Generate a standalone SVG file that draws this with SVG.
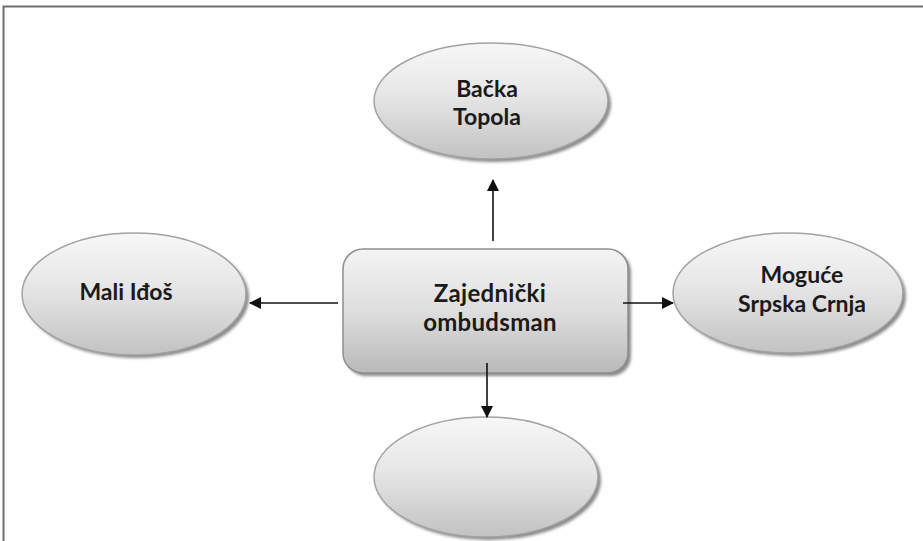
<svg xmlns="http://www.w3.org/2000/svg" width="923" height="541" viewBox="0 0 923 541">
<defs>
<linearGradient id="gEl" x1="0" y1="0" x2="0" y2="1">
<stop offset="0" stop-color="#f7f7f7"/>
<stop offset="0.45" stop-color="#e6e6e6"/>
<stop offset="1" stop-color="#c2c2c2"/>
</linearGradient>
<linearGradient id="gBox" x1="0" y1="0" x2="0" y2="1">
<stop offset="0" stop-color="#f4f4f4"/>
<stop offset="0.5" stop-color="#dedede"/>
<stop offset="1" stop-color="#b9b9b9"/>
</linearGradient>
<filter id="sh" x="-10%" y="-10%" width="120%" height="130%">
<feGaussianBlur stdDeviation="1.5"/>
</filter>
<marker id="ah" viewBox="0 0 12 12" refX="11" refY="6" markerWidth="12" markerHeight="12" markerUnits="userSpaceOnUse" orient="auto">
<path d="M0,0 L12,6 L0,12 Z" fill="#111"/>
</marker>
</defs>
<style>
.el{fill:url(#gEl);stroke:#a2a2a2;stroke-width:1.5}
.shd{fill:#8a8a8a;filter:url(#sh)}
.box{fill:url(#gBox);stroke:#8e8e8e;stroke-width:1.5}
.t{font-family:Lato,"Open Sans","Liberation Sans",sans-serif;font-weight:700;fill:#1a1a1a;text-anchor:middle}
.e{font-size:23px}
.c{font-size:24px;letter-spacing:0.3px}
.conn line{stroke:#111;stroke-width:1.6;marker-end:url(#ah)}
</style>
<rect width="923" height="541" fill="#fff"/>
<path d="M3.5,541 V6.5 H923" fill="none" stroke="#6e6e6e" stroke-width="2"/>

<g id="node-backa-topola">
<ellipse class="shd" cx="494" cy="104" rx="117" ry="58"/>
<ellipse class="el" cx="491" cy="101" rx="117" ry="58"/>
<text class="t e" x="487" y="97">Bačka</text>
<text class="t e" x="487" y="125">Topola</text>
</g>

<g id="node-mali-idos">
<ellipse class="shd" cx="137" cy="297" rx="112" ry="61"/>
<ellipse class="el" cx="134" cy="294" rx="112" ry="61"/>
<text class="t e" x="126" y="300">Mali Iđoš</text>
</g>

<g id="node-moguce">
<ellipse class="shd" cx="791" cy="296" rx="115" ry="60"/>
<ellipse class="el" cx="788" cy="293" rx="115" ry="60"/>
<text class="t e" x="802" y="283">Moguće</text>
<text class="t e" x="802" y="312">Srpska Crnja</text>
</g>

<g id="node-empty">
<ellipse class="shd" cx="489" cy="480" rx="112" ry="60"/>
<ellipse class="el" cx="486" cy="477" rx="112" ry="60"/>
</g>

<g id="node-zajednicki">
<rect class="shd" x="346" y="252" width="285" height="124" rx="20"/>
<rect class="box" x="343" y="249" width="285" height="124" rx="20"/>
<text class="t c" x="490" y="302">Zajednički</text>
<text class="t c" x="490" y="331">ombudsman</text>
</g>

<g id="connectors" class="conn">
<line x1="493" y1="241" x2="493" y2="180"/>
<line x1="338" y1="303" x2="250" y2="303"/>
<line x1="623" y1="303" x2="673" y2="303"/>
<line x1="487" y1="363" x2="487" y2="417"/>
</g>
</svg>
